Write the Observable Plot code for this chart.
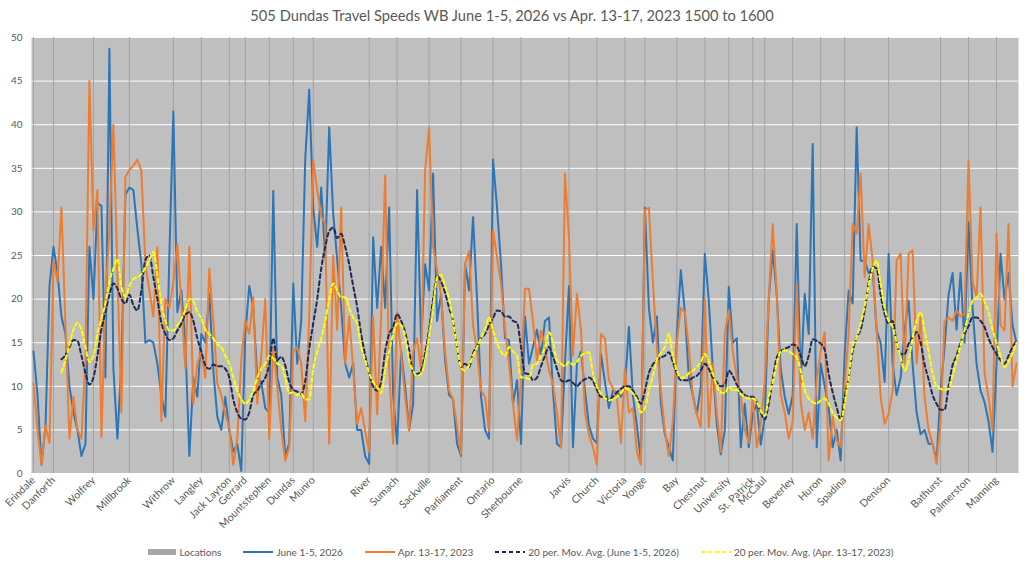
<!DOCTYPE html>
<html><head><meta charset="utf-8">
<script src="https://cdn.jsdelivr.net/npm/d3@7"></script>
<script src="https://cdn.jsdelivr.net/npm/@observablehq/plot@0.6"></script>
<style>
body{margin:0;background:#fff;font-family:Lato,"Liberation Sans",sans-serif;width:1024px;height:563px;overflow:hidden;}
#title{height:30px;line-height:30px;text-align:center;font-size:14.7px;color:#595959;}
#legend{height:23px;display:flex;justify-content:center;align-items:center;gap:22px;font-size:10px;color:#595959;padding-left:16px;}
#legend .item{display:flex;align-items:center;gap:3px;}
</style></head><body>
<div id="title">505 Dundas Travel Speeds WB June 1-5, 2026 vs Apr. 13-17, 2023 1500 to 1600</div>
<div id="chart"></div>
<div id="legend"></div>
<script>
const locationNames = ["Erindale","Danforth","Wolfrey","Millbrook","Withrow","Langley","Jack Layton","Gerrard","Mountstephen","Dundas","Munro","River","Sumach","Sackville","Parliament","Ontario","Sherbourne","Jarvis","Church","Victoria","Yonge","Bay","Chestnut","University","St. Patrick","McCaul","Beverley","Huron","Spadina","Denison","Bathurst","Palmerston","Manning"];
const locationIndex = [0,5,15,24,35,42,49,53,59,65,70,84,91,99,107,115,122,134,141,148,153,161,168,174,180,183,190,197,203,214,227,234,241];
const yTicks = [0,5,10,15,20,25,30,35,40,45,50];

const june2026 = [
14,9,1,5.3,21.5,26,23,18,16,10,
7,5,2,3.4,26,20,31,30.7,11,48.7,
12,4,12.6,32,32.8,32.5,28,24,15,15.3,
15,12.6,9,6.5,25,41.5,18.5,21,15,2,
11,8.8,16,15,20.6,11.8,6.5,5,8.8,5,
2.5,3.4,0.3,16,21.5,19,11,10.5,7.5,7,
32.4,11,9,2,3.5,21.8,12.6,17.5,36,44,
30.5,26,32.8,24.7,39.7,29.8,24.5,19,12.6,11,
12.6,5,5,2,1.1,27.1,19,26,19,30.5,
9,3.4,14,10,5,8,32.5,15,24,21,
34.4,17.5,20.6,13,9,8.5,3.4,2,24,21,
29.4,20,8.8,5,4,36,30.5,24,15.5,15.3,
8,10.7,3.4,18,12.6,14.5,16.5,13.5,17.5,17.9,
9.5,3.4,3,12.6,21.5,3,12.6,14,9.5,5.5,
4,3.5,13.7,10.5,7.5,9.5,9.3,8.8,10,16.8,
9,5.5,1.5,30.5,19,15,18,8,4.5,3,
1.5,16,23.3,18.5,11,9,6.8,10,25.2,19.8,
12,5.7,2.2,5,21.4,15,15.5,3,8,3,
6.8,8,3.3,6.5,20,25.6,20.5,12,8.8,6.8,
9,28.6,10.5,20.6,16,37.8,3,12.6,10,7.5,
3,5,1.5,13.7,21,19.5,39.7,24.4,24.4,23,
23.5,16.4,15,10.5,25.2,12.6,9,11,16.5,19.8,
12.5,7,4.5,5,3.4,3.4,1.5,9.5,14.5,20.5,
23,16.5,23,15,28.8,19,12.6,9.5,8.2,6,
2.5,12.6,25.2,20,23,17,15];

const apr2023 = [
10.3,5,1,5.5,3.5,24.4,22,30.5,17,4,
8.8,5,4,13,45,27.9,32.5,4.2,20,28,
40,23,7,34,34.8,35.3,36,34.7,24,21,
18,26,6,20,19,22,26.3,19.5,12,26,
8,12.6,14,11,23.5,17.5,10.3,9,6.8,5.3,
1,4,13,17.5,16,20.2,8,13.5,20,4,
14.5,10,5,1.5,3,14,14.5,12.6,6,18,
35.9,32.5,29.5,28.6,3.4,25,16.5,30.5,12.6,18,
12,5.7,7.5,4.9,2.5,18,6.8,18,34.2,12,
3.4,18.5,13.5,8.8,4.9,14,15.5,11.8,34.7,39.7,
26,23.3,20.4,14,9.5,8.5,5.5,2.2,24,25.5,
17,14,9.5,8.8,4.9,27.9,24.8,21.8,16.5,12.6,
8,3.8,11,21.2,21.2,17.5,13,16.4,14.5,11.8,
10.3,7,3,34.4,27.1,13.5,20.6,16.5,7,4.5,
3,1,16,15.5,10.7,9.8,8.8,3.5,12,7,
7.5,2.5,1,30.2,30.5,22,14.5,9.5,4.9,2,
6,15,19,18.5,14.5,8.8,6.8,5.3,20,5.3,
12.6,7,2.5,16,18.7,14,11,8.8,5,3.5,
8.8,3,5.7,10.5,20,28.6,20.6,9,7,4,
6,21.8,8.2,5,7,4,10.7,14,16.2,1.5,
6.5,3.8,3,10,16,28.6,27.5,34.4,22.5,28.6,
24.4,16.4,8.8,5.7,6.8,9.5,24.4,25.2,12.6,25.2,
25.6,12.6,18,8.8,5,3.4,1.1,6,17.5,17.9,
17.5,18.7,18,18.3,35.9,22,20.2,30.5,11.5,8.8,
5,27.5,17,16.4,28.6,10,12.6];

const maJune2026 = [
null,null,null,null,null,null,null,13.1,13.6,14.5,
15.3,15.2,13.5,11.5,10.2,11,13.5,16.5,18.5,20.5,
21.8,21.2,20,19.5,20.5,19.3,18.7,21,24.5,25,
22.5,20,17.3,16,15.3,15.5,16.4,17.2,18.2,18.5,
17.5,15.5,14,12.4,12,12.5,12.3,12.3,12,11,
8.5,7,6.3,6.2,7,9,9.5,10.3,11,12.5,
15.5,13,13.4,12.4,10.5,9.6,9.4,9.1,10.6,14.3,
17.2,20,23.5,26,27.8,28.2,27,27.5,26,24,
21.5,19.1,16,13.6,11.5,10,9.5,10.5,14,16,
16.8,18.3,17.5,16.2,14.2,11.6,11.4,11.8,13.8,16.5,
20,22.7,22,20.7,19,17.5,14.5,12.2,12.6,12.2,
13.8,14.6,15.5,16,17,17.8,18.7,18.6,18,18,
17.5,17.3,14.5,11.5,11.4,10.7,11,12.3,13.5,14.5,
13.4,12,10.7,10.5,10.7,10.4,10,10.5,10.8,11,
10.6,9.6,8.8,8.8,8.4,8.8,9.3,9.7,10,10,
9.5,8.8,8,9.5,11.5,12.5,13,13.3,13.5,13.9,
12.8,11.5,10.7,10.7,10.7,11,11.2,11.8,12.6,12,
11,10.5,10,10.2,11.8,11.2,10.2,9.5,9,8.8,
8.8,8.2,7,6.2,8,10.8,13.3,14,14.3,14.5,
14.8,14.6,13.5,12.3,13.5,15.4,15.2,14.9,14.2,11.4,
9.3,7.6,6.2,8.8,11,14,15.6,16.5,18.7,21.8,
23.7,23.5,20.5,18.3,17.2,17.5,15,13.7,13.7,14.9,
15.6,16.2,15,12.5,10.8,9,8,7.3,7.3,10,
12.4,13.5,15,16,16.9,17.9,17.9,17.5,16.8,15.5,
14.5,13.7,13,12.6,13.5,14.5,15.2];

const maApr2023 = [
null,null,null,null,null,null,null,11.6,13,14.8,
16.5,17.3,16.5,14.5,12.8,13.5,16,17.8,19.5,22,
23.5,24.6,21.5,20.3,21.5,22.3,22.5,22.9,23.6,24.5,
25.4,22.8,19.5,17.5,16.4,16.4,17,17.7,18.8,20,
19.8,18.5,17.8,16.5,16,15.5,14.8,14.5,13.5,12.6,
11,9.5,8.5,8,8.5,9.5,11,12,12.6,13.5,
13.2,12.6,12.4,11,9.2,9.3,9,9.2,8.5,8.5,
12,14,15.5,17.5,20,21.8,21,20.2,20.2,19,
17.9,17.2,14.5,13,11.5,10.5,9.9,9.2,12,14,
16,17.2,17,15.7,13,11.8,11.2,11.4,13,15.8,
19,22.5,22.8,21.5,20,17.5,14.5,12.2,11.8,12.4,
13.5,14.5,15.5,16.5,17.9,16.4,15,14,13.5,14.5,
14,13.5,11,11,10.8,12.5,12.6,13.5,14.5,16.2,
15,13,12.6,12.3,12.8,12.5,12.8,13.5,13.8,13.9,
11.5,10,9.2,8.7,8.4,8.5,8.8,9.2,9.8,9.6,
9.2,8.4,7,7.5,9.5,11.2,13,13.8,14.5,16,
13.5,11.8,11,11,11.5,11.8,12.2,12.8,13.7,12.8,
11.5,10,9.3,9.2,10,9.5,9.6,9.1,8.8,8.6,
8.6,8.2,7.2,6.6,8.8,10.5,12.6,14,14.1,14,
13.7,13.3,11.8,9.6,8.6,8.2,8,8.4,8.6,8,
7,6.4,6.1,8,11,14.5,15.6,17.2,19.2,21.5,
23.5,24.4,21.8,19,17.5,16.8,15,13.3,11.8,13,
15.5,17.5,18.5,16.4,14,11.5,10,9.7,9.6,9.7,
11.2,13,14.7,16.4,18.3,19.8,20.2,20.6,19.7,18.5,
16.5,15,13.5,12.2,12.8,13.8,15];

const rows = june2026.map((v, i) => ({i, june: v, apr: apr2023[i], maJ: maJune2026[i], maA: maApr2023[i]}));
const nameOf = new Map(locationIndex.map((k, j) => [k, locationNames[j]]));

const chart = Plot.plot({
  width: 1024,
  height: 510,
  marginTop: 7,
  marginBottom: 67,
  marginLeft: 31,
  marginRight: 6,
  style: {fontFamily: "Lato, 'Liberation Sans', sans-serif", fontSize: "10px", color: "#595959", background: "white", overflow: "visible"},
  x: {domain: [-0.5, june2026.length - 0.5]},
  y: {domain: [0, 50]},
  marks: [
    Plot.frame({fill: "#bfbfbf", stroke: null}),
    Plot.ruleY(yTicks, {stroke: "white", strokeWidth: 1}),
    Plot.ruleX(locationIndex, {y1: 0, y2: 50, stroke: "#a3a3a3", strokeWidth: 1}),
    Plot.lineY(rows, {x: "i", y: "june", stroke: "#2e75b6", strokeWidth: 2}),
    Plot.lineY(rows, {x: "i", y: "apr", stroke: "#ed7d31", strokeWidth: 2}),
    Plot.lineY(rows, {x: "i", y: "maJ", stroke: "#1f2a55", strokeWidth: 2, strokeDasharray: "4,3", curve: "monotone-x"}),
    Plot.lineY(rows, {x: "i", y: "maA", stroke: "#ffff00", strokeWidth: 2, strokeDasharray: "4,3", curve: "monotone-x"}),
    Plot.axisY({ticks: yTicks, tickSize: 0, tickPadding: 9, fontSize: 10, label: null}),
    Plot.axisX({ticks: locationIndex, tickFormat: d => nameOf.get(d), tickRotate: -45, tickSize: 0, tickPadding: 5, fontSize: 10.5, label: null})
  ]
});
document.getElementById("chart").appendChild(chart);

const legendItems = [
  {label: "Locations", type: "bar", color: "#a5a5a5"},
  {label: "June 1-5, 2026", type: "line", color: "#2e75b6"},
  {label: "Apr. 13-17, 2023", type: "line", color: "#ed7d31"},
  {label: "20 per. Mov. Avg. (June 1-5, 2026)", type: "dash", color: "#1f2a55"},
  {label: "20 per. Mov. Avg. (Apr. 13-17, 2023)", type: "dash", color: "#ffff00"}
];
const legend = d3.select("#legend");
for (const it of legendItems) {
  const item = legend.append("div").attr("class", "item");
  const s = item.append("svg").attr("width", 30).attr("height", 10);
  if (it.type === "bar") s.append("rect").attr("x", 1).attr("y", 2).attr("width", 28).attr("height", 6).attr("fill", it.color);
  else s.append("line").attr("x1", 0).attr("x2", 30).attr("y1", 5).attr("y2", 5).attr("stroke", it.color).attr("stroke-width", 2).attr("stroke-dasharray", it.type === "dash" ? "4,3" : null);
  item.append("span").text(it.label);
}
</script>
</body></html>
